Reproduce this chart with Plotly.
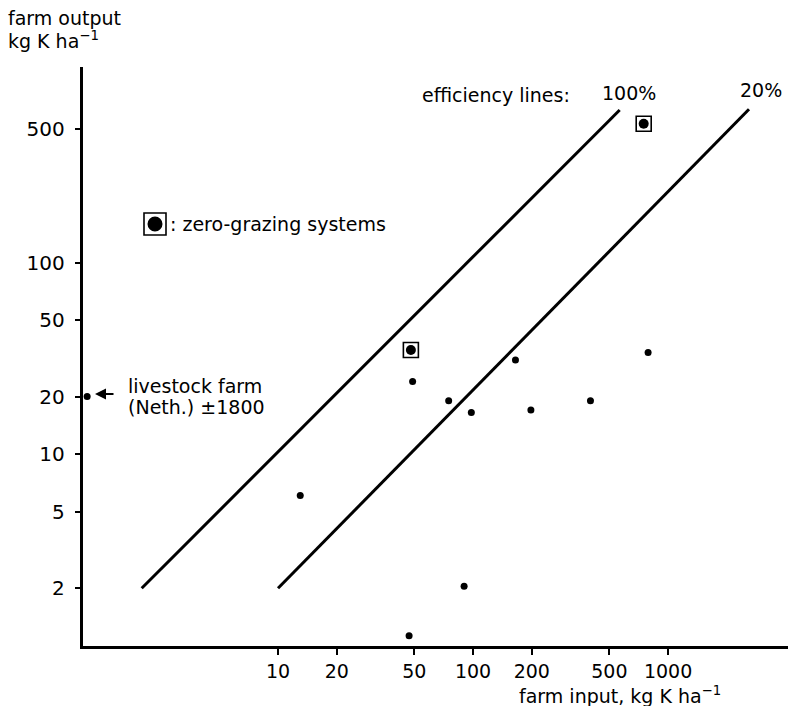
import plotly.graph_objects as go

# Potassium balance of farms: input vs output (kg K per ha), log-log
farm_input = [13, 49, 75, 98, 165, 198, 400, 790, 90, 47]
farm_output = [6.1, 24, 19, 16.5, 31, 17, 19, 34, 2.05, 1.13]

zero_grazing_input = [48, 750]
zero_grazing_output = [35, 530]

livestock_input = [1.05]
livestock_output = [20]

# efficiency lines, end points in kg K per ha
eff_100_input = [2, 565]
eff_100_output = [2, 625]
eff_20_input = [10, 2600]
eff_20_output = [2, 630]

x_ticks = [10, 20, 50, 100, 200, 500, 1000]
y_ticks = [2, 5, 10, 20, 50, 100, 500]

W, H = 788, 706
L, R, T, B = 83, 0, 67, 60
PW, PH = W - L - R, H - T - B


def px(x):
    return (x - L) / PW


def py(y):
    return (H - B - y) / PH


FONT = "DejaVu Sans"
NBSP = "\u00a0"
fig = go.Figure()

fig.add_trace(go.Scatter(
    x=eff_100_input, y=eff_100_output, mode="lines",
    line=dict(color="black", width=3), hoverinfo="skip"))
fig.add_trace(go.Scatter(
    x=eff_20_input, y=eff_20_output, mode="lines",
    line=dict(color="black", width=3), hoverinfo="skip"))

fig.add_trace(go.Scatter(
    x=farm_input, y=farm_output, mode="markers",
    marker=dict(color="black", size=7), cliponaxis=False))
fig.add_trace(go.Scatter(
    x=livestock_input, y=livestock_output, mode="markers",
    marker=dict(color="black", size=7), cliponaxis=False))
fig.add_trace(go.Scatter(
    x=zero_grazing_input, y=zero_grazing_output, mode="markers",
    marker=dict(symbol="square-open", color="black", size=15,
                line=dict(width=1.6, color="black"))))
fig.add_trace(go.Scatter(
    x=zero_grazing_input, y=zero_grazing_output, mode="markers",
    marker=dict(color="black", size=10)))

# key symbol for zero-grazing systems
shapes = [
    dict(type="rect", xref="paper", yref="paper",
         x0=px(144), x1=px(166), y0=py(235), y1=py(213),
         line=dict(color="black", width=1.6)),
    dict(type="circle", xref="paper", yref="paper",
         x0=px(147.5), x1=px(162.5), y0=py(231.5), y1=py(216.5),
         fillcolor="black", line=dict(color="black", width=0)),
]

txt = dict(xref="paper", yref="paper", showarrow=False,
           font=dict(family=FONT, size=19, color="black"))
annotations = [
    dict(x=px(6), y=py(18), text="farm output", xanchor="left", yanchor="middle", **txt),
    dict(x=px(6), y=py(40), text="kg K ha<sup>−1</sup>", xanchor="left", yanchor="middle", **txt),
    dict(x=px(420), y=py(95), text="efficiency lines:", xanchor="left", yanchor="middle", **txt),
    dict(x=px(629), y=py(93), text="100%", xanchor="center", yanchor="middle", **txt),
    dict(x=px(761), y=py(90), text="20%", xanchor="center", yanchor="middle", **txt),
    dict(x=px(168), y=py(224), text=": zero-grazing systems", xanchor="left", yanchor="middle", **txt),
    dict(x=px(126), y=py(386), text="livestock farm", xanchor="left", yanchor="middle", **txt),
    dict(x=px(126), y=py(407), text="(Neth.) ±1800", xanchor="left", yanchor="middle", **txt),
    dict(x=px(517), y=py(695), text="farm input, kg K ha<sup>−1</sup>", xanchor="left", yanchor="middle", **txt),
    dict(x=px(95), y=py(394), xref="paper", yref="paper", text="", showarrow=True,
         ax=20, ay=0, arrowhead=2, arrowsize=1.1, arrowwidth=2, arrowcolor="black"),
]

fig.update_layout(
    width=W, height=H,
    margin=dict(l=L, r=R, t=T, b=B),
    paper_bgcolor="white", plot_bgcolor="white",
    showlegend=False,
    shapes=shapes, annotations=annotations,
    font=dict(family=FONT, size=20, color="black"),
    xaxis=dict(type="log", range=[0, 3.615], showgrid=False, zeroline=False,
               showline=True, linecolor="black", linewidth=3,
               tickmode="array", tickvals=x_ticks, ticktext=[str(v) for v in x_ticks],
               ticks="outside", ticklen=6, tickwidth=1.5, tickcolor="black",
               tickfont=dict(family=FONT, size=19, color="black")),
    yaxis=dict(type="log", range=[0, 3.02], showgrid=False, zeroline=False,
               showline=True, linecolor="black", linewidth=3,
               tickmode="array", tickvals=y_ticks,
               ticktext=[str(v) + NBSP for v in y_ticks],
               ticks="outside", ticklen=5, tickwidth=1.5, tickcolor="black",
               tickfont=dict(family=FONT, size=20, color="black")),
)

fig.write_html("out.html")
